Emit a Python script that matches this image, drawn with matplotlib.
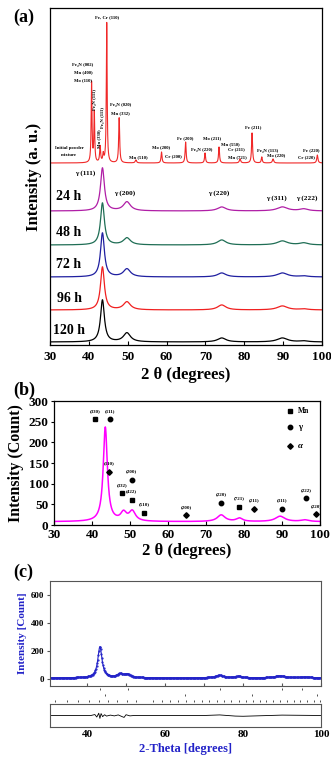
import numpy as np
import matplotlib
matplotlib.use('Agg')
import matplotlib.pyplot as plt

plt.rcParams['font.family'] = ['Liberation Serif', 'DejaVu Serif']
plt.rcParams['font.weight'] = 'bold'
plt.rcParams['axes.linewidth'] = 0.9

# ------------------------------------------------------------------ data
x_ticks_ab = [30, 40, 50, 60, 70, 80, 90, 100]
y_ticks_b = [0, 50, 100, 150, 200, 250, 300]
y_ticks_c = [0, 200, 400, 600]
x_ticks_c = [40, 60, 80, 100]

# (a) initial powder mixture: peak table (2theta, height a.u., FWHM)
init_base = 182
init_pos = [40.7, 41.4, 42.9, 43.7, 44.6, 47.8, 52.1, 58.7, 64.9, 69.9, 73.5, 78.9, 82.0, 84.5, 87.4, 98.8]
init_hgt = [80, 50, 16, 8, 140, 45, 3, 11, 21, 10, 16, 4, 30, 6, 4, 8]
init_fwhm = [0.25, 0.25, 0.3, 0.3, 0.25, 0.3, 0.4, 0.3, 0.3, 0.3, 0.3, 0.4, 0.3, 0.3, 0.4, 0.35]

# (a) milled powders: gamma peak table
milled_labels = ['24 h', '48 h', '72 h', '96 h', '120 h']
milled_base = [134, 100, 68, 35, 3]
gamma_pos = [43.5, 49.8, 74.2, 89.8, 95.3]
gamma_fwhm = [1.2, 2.2, 2.6, 3.2, 2.6]
gamma_hgt_24h = [43, 9, 4, 4, 2]
gamma_hgt_48h = [42, 7, 5, 4, 2]
gamma_hgt_72h = [44, 8, 4, 4, 1]
gamma_hgt_96h = [43, 8, 5, 4, 1]
gamma_hgt_120h = [42, 9, 4, 4, 1]

# (b) 120 h pattern (counts)
b_base = 8
b_pos = [43.5, 48.3, 50.6, 74.0, 78.8, 89.5, 96.0]
b_hgt = [228, 20, 24, 16, 8, 13, 4]
b_fwhm = [1.3, 1.8, 2.0, 2.5, 2.0, 3.0, 2.5]

mn_x = [40.8, 47.8, 50.4, 53.7, 78.7]
mn_y = [256, 77, 61, 30, 44]
mn_lab = ['(330)', '(332)', '(422)', '(510)', '(721)']
gam_x = [44.8, 50.4, 74.0, 89.9, 96.3]
gam_y = [256, 110, 54, 39, 65]
gam_lab = ['(111)', '(200)', '(220)', '(311)', '(222)']
alp_x = [44.6, 64.7, 82.7, 99.0]
alp_y = [129, 24, 39, 26]
alp_lab = ['(110)', '(200)', '(211)', '(220)']

# (c) Rietveld fit
c_base = 8
c_pos = [43.3, 48.5, 50.3, 74.0, 78.8, 89.5, 96.0]
c_hgt = [222, 24, 24, 18, 11, 15, 7]
c_fwhm = [1.3, 1.8, 2.0, 2.5, 2.0, 3.0, 2.5]

resid_x = [30, 41, 42, 42.5, 43, 43.3, 43.6, 44, 44.5, 45, 46, 47, 48, 49, 49.5, 50, 51, 52, 60, 70, 74, 78, 80, 90, 100]
resid_y = [0, 0, 5, -8, 12, -15, 10, -6, 4, -3, 2, -2, 3, -6, -10, 4, -2, 0, 0, 0, 3, -3, -4, 2, 0]

bragg_gamma = [43.4, 50.4, 74.1, 89.9, 95.2]
bragg_alpha = [44.7, 65.0, 82.3, 98.9]
bragg_mn = [31.8, 34.9, 37.7, 40.4, 43.0, 45.5, 47.8, 50.2, 52.5, 56.8, 59.1, 61.3, 63.4, 65.5,
            67.5, 69.5, 71.4, 73.3, 75.2, 77.0, 78.9, 80.7, 82.5, 84.3, 86.0, 87.8, 89.5, 91.3,
            93.0, 94.7, 96.4, 98.1, 99.8]


def profile(x, base, pos, hgt, fwhm):
    y = np.full_like(x, float(base))
    for p, h, w in zip(pos, hgt, fwhm):
        y += h / (1.0 + ((x - p) / (w / 2.0)) ** 2)
    return y


tt = np.linspace(30, 100, 1401)

W, H = 331, 760
fig = plt.figure(figsize=(W / 100, H / 100), dpi=100)


def rect(x0, y0, x1, y1):
    return [x0 / W, 1 - y1 / H, (x1 - x0) / W, (y1 - y0) / H]


# ------------------------------------------------------------------ (a)
ax = fig.add_axes(rect(50, 8, 322, 345))
ax.set_xlim(30, 100)
ax.set_ylim(0, 337)
ax.plot(tt, profile(tt, init_base, init_pos, init_hgt, init_fwhm), color='#f02828', lw=0.8)
milled_hgts = [gamma_hgt_24h, gamma_hgt_48h, gamma_hgt_72h, gamma_hgt_96h, gamma_hgt_120h]
milled_cols = ['#b01ea6', '#1f6e55', '#1f1fa0', '#f02020', '#000000']
for base, hg, col in zip(milled_base, milled_hgts, milled_cols):
    ax.plot(tt, profile(tt, base, gamma_pos, hg, gamma_fwhm), color=col, lw=0.9)
time_y = [149, 113, 80, 47, 15]
for lab, ty in zip(milled_labels, time_y):
    ax.text(34.9, ty, lab, fontsize=10, ha='center', va='center', fontweight='bold')

small = dict(fontsize=3.4, ha='center', va='center', fontweight='bold',
             family=['Liberation Serif', 'DejaVu Serif'])
red_labels = [
    ("Fe, Cr (110)", 44.67, 328, 0),
    ("Fe₄N (002)", 38.5, 280, 0), ("Mn (400)", 38.5, 273, 0), ("Mo (110)", 38.5, 265, 0),
    ("Fe₄N (111)", 41.6, 245, 90), ("Mn (330)", 42.6, 206, 90), ("Fe₃N (111)", 43.6, 228, 90),
    ("Fe₄N (020)", 48.2, 240, 0), ("Mn (332)", 48.2, 232, 0),
    ("Mn (510)", 52.7, 188, 0), ("Mo (200)", 58.7, 198, 0), ("Cr (200)", 61.7, 189, 0),
    ("Fe (200)", 64.9, 207, 0), ("Fe₄N (220)", 69.0, 195, 0), ("Mo (211)", 71.8, 207, 0),
    ("Mn (550)", 76.3, 201, 0), ("Cr (211)", 78.0, 196, 0), ("Mn (721)", 78.2, 188, 0),
    ("Fe (211)", 82.3, 218, 0), ("Fe₄N (113)", 86.0, 194, 0), ("Mo (220)", 88.2, 190, 0),
    ("Fe (220)", 97.2, 195, 0), ("Cr (220)", 96.1, 188, 0),
    ("Initial powder", 34.9, 197, 0), ("mixture", 34.9, 190, 0),
]
for t, xx, yy, rot in red_labels:
    ax.text(xx, yy, t, rotation=rot, **small)

g_labels = [("γ (111)", 39.0, 172), ("γ (200)", 49.3, 152), ("γ (220)", 73.5, 152),
            ("γ (311)", 88.4, 147), ("γ (222)", 96.1, 147)]
for t, xx, yy in g_labels:
    ax.text(xx, yy, t, fontsize=5.2, ha='center', va='center', fontweight='bold')

ax.set_xticks(x_ticks_ab)
ax.set_yticks([])
ax.tick_params(axis='x', direction='in', length=3, labelsize=9.5, pad=4)
ax.set_xlabel('2 θ (degrees)', fontsize=12, fontweight='bold', labelpad=3)
ax.set_ylabel('Intensity (a. u.)', fontsize=12, fontweight='bold', labelpad=6)
fig.text(13 / W, 1 - 17 / H, '(a)', fontsize=13, fontweight='bold', va='center', ha='left')

# ------------------------------------------------------------------ (b)
bx = fig.add_axes(rect(54, 401, 320, 525))
bx.set_xlim(30, 100)
bx.set_ylim(0, 300)
bx.plot(tt, profile(tt, b_base, b_pos, b_hgt, b_fwhm), color='#ff00ff', lw=1.1)
mk = dict(color='black', linestyle='none')
bx.plot(mn_x, mn_y, marker='s', ms=3, **mk)
bx.plot(gam_x, gam_y, marker='o', ms=3.2, **mk)
bx.plot(alp_x, alp_y, marker='D', ms=2.8, **mk)
for xs, ys, labs in [(mn_x, mn_y, mn_lab), (gam_x, gam_y, gam_lab), (alp_x, alp_y, alp_lab)]:
    for xx, yy, t in zip(xs, ys, labs):
        bx.annotate(t, (xx, yy), xytext=(0, 6), textcoords='offset points',
                    fontsize=3.6, ha='center', va='center', fontweight='bold')
# legend
bx.plot([92.1], [275], marker='s', ms=3, **mk)
bx.plot([92.1], [237], marker='o', ms=3.2, **mk)
bx.plot([92.1], [190], marker='D', ms=2.8, **mk)
bx.text(94.3, 275, 'Mn', fontsize=5.5, va='center', ha='left', fontweight='bold')
bx.text(94.3, 237, 'γ', fontsize=6.5, va='center', ha='left')
bx.text(94.3, 190, 'α', fontsize=6.5, va='center', ha='left', style='italic')
bx.set_xticks(x_ticks_ab)
bx.set_yticks(y_ticks_b)
bx.tick_params(axis='x', direction='in', length=3, labelsize=9.5, pad=3)
bx.tick_params(axis='y', direction='out', length=2, labelsize=9.5, pad=2)
bx.set_xlabel('2 θ (degrees)', fontsize=12, fontweight='bold', labelpad=1)
bx.set_ylabel('Intensity (Count)', fontsize=11.5, fontweight='bold', labelpad=3)
fig.text(13 / W, 1 - 390 / H, '(b)', fontsize=13, fontweight='bold', va='center', ha='left')

# ------------------------------------------------------------------ (c)
blue = '#2323c8'
cx = fig.add_axes(rect(50, 581, 321, 686))
cx.set_xlim(30.5, 100)
cx.set_ylim(-50, 700)
cx.plot(tt, profile(tt, c_base, c_pos, c_hgt, c_fwhm), color=blue, lw=0.8,
        marker='.', ms=1.2, markevery=3)
cx.set_yticks(y_ticks_c)
cx.set_xticks([40, 50, 60, 70, 80, 90, 100])
cx.tick_params(axis='x', direction='in', length=2, labelbottom=False, color='#555555')
cx.tick_params(axis='y', direction='out', length=2, labelsize=6.5, pad=2, color='#555555')
for s in cx.spines.values():
    s.set_color('#555555')
    s.set_linewidth(0.8)
cx.set_ylabel('Intensity [Count]', fontsize=8, fontweight='bold', color=blue, labelpad=3)
fig.text(13 / W, 1 - 572 / H, '(c)', fontsize=13, fontweight='bold', va='center', ha='left')

tk = fig.add_axes(rect(50, 686, 321, 704))
tk.set_xlim(30.5, 100)
tk.set_ylim(0, 18)
tk.axis('off')
tk.plot(bragg_gamma, [15] * len(bragg_gamma), linestyle='none', marker='|', ms=2, mew=0.6, color='#333333')
tk.plot(bragg_alpha, [9] * len(bragg_alpha), linestyle='none', marker='|', ms=2, mew=0.6, color='#333333')
tk.plot(bragg_mn, [3] * len(bragg_mn), linestyle='none', marker='|', ms=1.6, mew=0.6, color='#333333')

rx = fig.add_axes(rect(50, 704, 321, 727))
rx.set_xlim(30.5, 100)
rx.set_ylim(-60, 60)
rx.plot(resid_x, resid_y, color='black', lw=0.6)
rx.set_yticks([])
rx.set_xticks(x_ticks_c)
rx.tick_params(axis='x', direction='in', length=0, labelsize=8, pad=2)
for s in rx.spines.values():
    s.set_color('#555555')
    s.set_linewidth(0.8)
rx.set_xlabel('2-Theta [degrees]', fontsize=9, fontweight='bold', color=blue, labelpad=3)

fig.savefig('out.png', dpi=100)
